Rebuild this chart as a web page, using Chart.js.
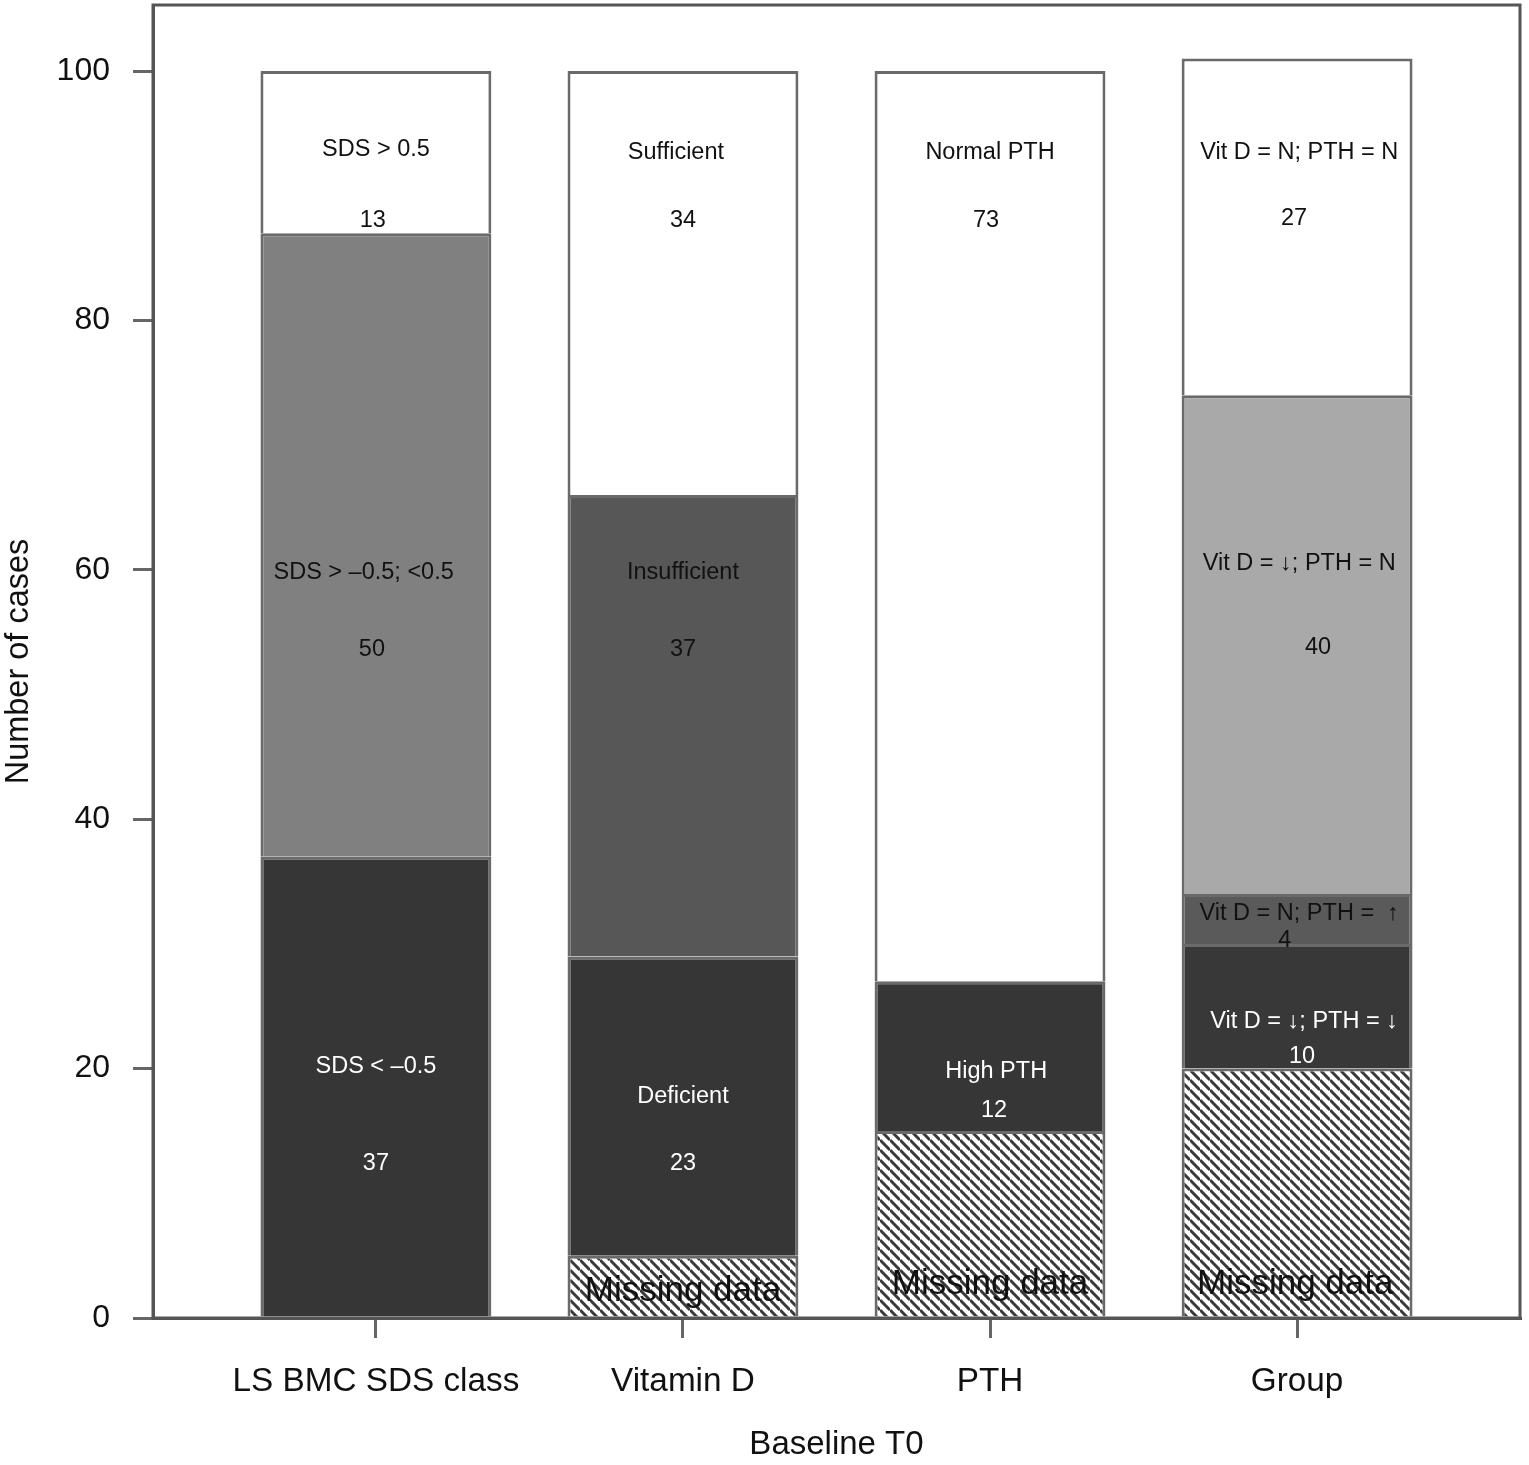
<!DOCTYPE html>
<html>
<head>
<meta charset="utf-8">
<script src="https://cdn.jsdelivr.net/npm/chart.js@4/dist/chart.umd.min.js"></script>
<style>
  html, body { margin: 0; padding: 0; background: #fff; }
  #wrap { width: 1529px; height: 1465px; }
</style>
</head>
<body>
<div id="wrap"><canvas id="chart"></canvas></div>
<script>
// stacked segments, bottom to top, per category
const categories = ['LS BMC SDS class', 'Vitamin D', 'PTH', 'Group'];
const missingData = [null, 5, 15, 20];
const segment1 = [37, 24, 12, 10];
const segment2 = [50, 37, 73, 4];
const segment3 = [13, 34, null, 40];
const segment4 = [null, null, null, 27];
const yTicks = [0, 20, 40, 60, 80, 100];

// text written inside the bars (x in category units, y in cases)
const labelText = [
  'SDS > 0.5', '13', 'SDS > –0.5; <0.5', '50', 'SDS < –0.5', '37',
  'Sufficient', '34', 'Insufficient', '37', 'Deficient', '23', 'Missing data',
  'Normal PTH', '73', 'High PTH', '12', 'Missing data',
  'Vit D = N; PTH = N', '27', 'Vit D = ↓; PTH = N', '40', 'Vit D = N; PTH =  ↑', '4',
  'Vit D = ↓; PTH = ↓', '10', 'Missing data'
];
const labelX = [
  0, -0.01, -0.04, -0.013, 0, 0,
  0.977, 1, 1, 1, 1, 1, 1,
  2, 1.987, 2.02, 2.013, 2,
  3.007, 2.99, 3.007, 3.068, 3.007, 2.96,
  3.023, 3.016, 2.994
];
const labelY = [
  93.7, 88.0, 59.8, 53.6, 20.2, 12.4,
  93.5, 88.0, 59.8, 53.6, 17.8, 12.4, 2.1,
  93.5, 88.0, 19.8, 16.6, 2.7,
  93.5, 88.2, 60.5, 53.8, 32.4, 30.3,
  23.8, 21.0, 2.7
];

function hatch() {
  const s = 10, c = document.createElement('canvas');
  c.width = c.height = s;
  const g = c.getContext('2d');
  g.fillStyle = '#fff'; g.fillRect(0, 0, s, s);
  g.strokeStyle = '#3a3a3a'; g.lineWidth = 3;
  g.beginPath();
  for (const k of [-1, 0, 1]) { g.moveTo(0, k * s); g.lineTo(s, s + k * s); }
  g.stroke();
  return g.createPattern(c, 'repeat');
}
const stripes = hatch();

const pts = arr => arr.map((v, i) => ({ x: i, y: v }));
const seg = (data, colors) => ({
  data: pts(data), backgroundColor: colors,
  borderColor: '#6a6a6a', borderWidth: { top: 3, left: 3, right: 3, bottom: 0 }, borderSkipped: false
});

const datasets = [
  seg(missingData, [stripes, stripes, stripes, stripes]),
  seg(segment1, ['#363636', '#363636', '#363636', '#383838']),
  seg(segment2, ['#808080', '#575757', '#ffffff', '#5a5a5a']),
  seg(segment3, ['#ffffff', '#ffffff', '#ffffff', '#a9a9a9']),
  seg(segment4, ['#ffffff', '#ffffff', '#ffffff', '#ffffff'])
];

function textColor(cat, v) {
  let base = 0;
  for (const ds of datasets) {
    const h = ds.data[cat].y || 0;
    if (v >= base && v < base + h) {
      const col = ds.backgroundColor[cat];
      if (typeof col === 'string' && parseInt(col.slice(1, 3), 16) < 0x45) return '#fff';
      return '#111';
    }
    base += h;
  }
  return '#111';
}

const frame = {
  id: 'frame',
  afterDraw(chart) {
    const { ctx, chartArea: a } = chart;
    ctx.save();
    ctx.strokeStyle = '#555'; ctx.lineWidth = 3;
    ctx.strokeRect(a.left, a.top, a.right - a.left, a.bottom - a.top);
    ctx.restore();
  }
};

const segLabels = {
  id: 'segLabels',
  afterDatasetsDraw(chart) {
    const { ctx, scales: { x, y } } = chart;
    ctx.save();
    ctx.textAlign = 'center'; ctx.textBaseline = 'middle';
    labelText.forEach((t, i) => {
      const big = t === 'Missing data';
      ctx.font = (big ? '35px' : '23.5px') + ' "Liberation Sans", Arial, sans-serif';
      ctx.fillStyle = big ? '#111' : textColor(Math.round(labelX[i]), labelY[i]);
      ctx.fillText(t, x.getPixelForValue(labelX[i]), y.getPixelForValue(labelY[i]));
    });
    ctx.restore();
  }
};

const font = s => ({ family: '"Liberation Sans", Arial, sans-serif', size: s });
const noPad = s => { s.paddingTop = 0; s.paddingBottom = 0; s.paddingLeft = 0; s.paddingRight = 0; };

new Chart(document.getElementById('chart'), {
  type: 'bar',
  data: { datasets },
  options: {
    responsive: true, maintainAspectRatio: false, animation: false,
    layout: { padding: { top: 5, right: 9, bottom: 0, left: 0 } },
    datasets: { bar: { barPercentage: 0.752, categoryPercentage: 1 } },
    plugins: { legend: { display: false }, tooltip: { enabled: false } },
    scales: {
      x: {
        type: 'linear', stacked: true, min: -0.726, max: 3.726, offset: false,
        afterBuildTicks: s => { s.ticks = categories.map((c, i) => ({ value: i })); },
        afterFit: s => { s.height = 147; noPad(s); },
        ticks: { callback: v => categories[v], font: font(33.3), color: '#111', padding: 24, maxRotation: 0 },
        grid: { offset: false, drawOnChartArea: false, tickLength: 20, color: '#666', lineWidth: 3 },
        border: { color: '#555', width: 3 },
        title: { display: true, text: 'Baseline T0', font: font(33), color: '#111', padding: 0 }
      },
      y: {
        stacked: true, min: 0, max: 105.3,
        afterBuildTicks: s => { s.ticks = yTicks.map(v => ({ value: v })); },
        afterFit: s => { s.width = 153; noPad(s); },
        ticks: { font: font(32), color: '#111', padding: 23 },
        grid: { drawOnChartArea: false, tickLength: 20, color: '#666', lineWidth: 3 },
        border: { color: '#555', width: 3 },
        title: { display: true, text: 'Number of cases', font: font(32.5), color: '#111', padding: 0 }
      }
    }
  },
  plugins: [frame, segLabels]
});
</script>
</body>
</html>
